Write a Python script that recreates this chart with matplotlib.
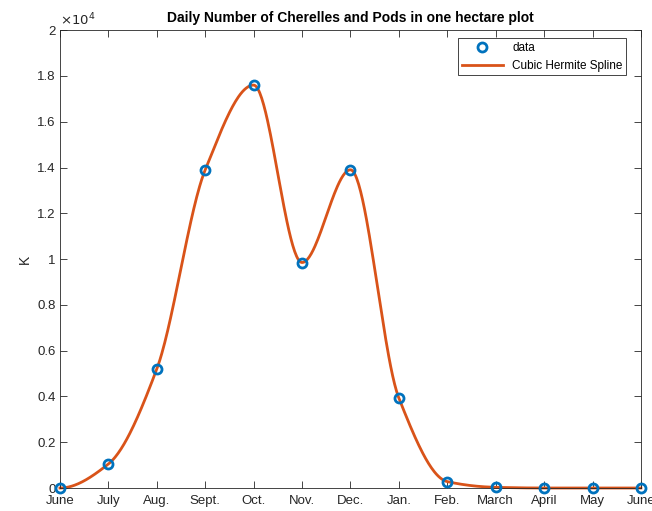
import numpy as np
import matplotlib
matplotlib.use('Agg')
import matplotlib.pyplot as plt
from matplotlib.ticker import FuncFormatter

plt.rcParams['font.family'] = ['Liberation Sans', 'DejaVu Sans']

# Data
months = ['June', 'July', 'Aug.', 'Sept.', 'Oct.', 'Nov.', 'Dec.', 'Jan.',
          'Feb.', 'March', 'April', 'May', 'June']
counts = [0, 1050, 5200, 13900, 17600, 9850, 13900, 3930, 280, 30, 0, 0, 0]


def pchip(x, y, xq):
    # shape-preserving piecewise cubic Hermite (same as MATLAB pchip)
    x = np.asarray(x, float)
    y = np.asarray(y, float)
    h = np.diff(x)
    delta = np.diff(y) / h
    n = len(x)
    d = np.zeros(n)
    for k in range(1, n - 1):
        if delta[k - 1] * delta[k] > 0:
            w1 = 2 * h[k] + h[k - 1]
            w2 = h[k] + 2 * h[k - 1]
            d[k] = (w1 + w2) / (w1 / delta[k - 1] + w2 / delta[k])

    def end_slope(h0, h1, del0, del1):
        s = ((2 * h0 + h1) * del0 - h0 * del1) / (h0 + h1)
        if np.sign(s) != np.sign(del0):
            s = 0
        elif np.sign(del0) != np.sign(del1) and abs(s) > abs(3 * del0):
            s = 3 * del0
        return s

    d[0] = end_slope(h[0], h[1], delta[0], delta[1])
    d[-1] = end_slope(h[-1], h[-2], delta[-1], delta[-2])

    idx = np.clip(np.searchsorted(x, xq) - 1, 0, n - 2)
    t = (xq - x[idx]) / h[idx]
    h00 = 2 * t**3 - 3 * t**2 + 1
    h10 = t**3 - 2 * t**2 + t
    h01 = -2 * t**3 + 3 * t**2
    h11 = t**3 - t**2
    return (h00 * y[idx] + h10 * h[idx] * d[idx]
            + h01 * y[idx + 1] + h11 * h[idx] * d[idx + 1])


x = np.arange(len(months))
xs = np.linspace(0, len(months) - 1, 600)
ys = pchip(x, counts, xs)

fig = plt.figure(figsize=(6.52, 5.11), dpi=100)
ax = fig.add_axes([0.092, 0.045, 0.891, 0.896])

ax.plot(x, counts, 'o', color='#0072BD', markerfacecolor='none',
        markeredgewidth=2, markersize=6.5, label='data', zorder=3,
        clip_on=False)
ax.plot(xs, ys, '-', color='#D95319', linewidth=2,
        label='Cubic Hermite Spline', zorder=2, clip_on=False)

ax.set_xlim(0, 12)
ax.set_ylim(0, 20000)
ax.set_xticks(x)
ax.set_xticklabels(months)
ax.set_yticks(np.arange(0, 20001, 2000))
ax.yaxis.set_major_formatter(FuncFormatter(lambda v, p: ('%g' % (v / 1e4))))

gray = '#262626'
for s in ax.spines.values():
    s.set_color(gray)
    s.set_linewidth(0.6)
ax.tick_params(direction='in', top=True, right=True, length=5, width=0.6,
               colors=gray, labelsize=9.5, labelcolor=gray, pad=3)
ax.tick_params(axis='x', pad=5)

ax.set_ylabel('K', fontsize=10, color=gray)
ax.set_title('Daily Number of Cherelles and Pods in one hectare plot',
             fontsize=10, fontweight='bold', pad=6)
ax.text(0.0, 1.003, r'$\times10^4$', transform=ax.transAxes, fontsize=9.5,
        color=gray, ha='left', va='bottom')

leg = ax.legend(loc='upper right', fontsize=8.5, fancybox=False,
                framealpha=1, edgecolor=gray, borderpad=0.3,
                handlelength=3.5, bbox_to_anchor=(0.985, 0.995))
leg.get_frame().set_linewidth(0.6)

fig.savefig('out.png', dpi=100)
